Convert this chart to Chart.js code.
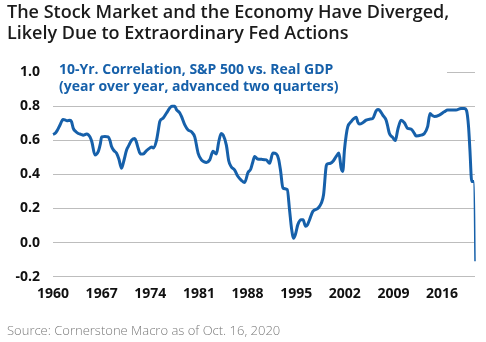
<!DOCTYPE html>
<html>
<head>
<meta charset="utf-8">
<title>Stock Market vs Economy</title>
<script src="https://cdn.jsdelivr.net/npm/chart.js@4.4.0/dist/chart.umd.min.js"></script>
<style>
  html, body { margin: 0; padding: 0; background: #fff; }
  #wrap { width: 486px; height: 342px; }
</style>
</head>
<body>
<div id="wrap"><canvas id="corrChart"></canvas></div>
<script>
// sample dates as decimal years
var dates = [
  1960.00, 1960.29, 1960.57, 1961.01, 1961.44, 1961.72, 1962.01, 1962.44, 1962.66, 1962.92,
  1963.30, 1963.64, 1964.02, 1964.35, 1964.84, 1965.10, 1965.32, 1965.60, 1966.03, 1966.51,
  1966.82, 1967.00, 1967.47, 1967.95, 1968.19, 1968.43, 1968.76, 1969.15, 1969.48, 1969.87,
  1970.20, 1970.59, 1970.92, 1971.31, 1971.78, 1972.00, 1972.26, 1972.57, 1972.97, 1973.46,
  1973.94, 1974.22, 1974.44, 1974.90, 1975.16, 1975.37, 1975.85, 1976.34, 1976.82, 1977.10,
  1977.53, 1977.77, 1978.25, 1978.49, 1978.97, 1979.44, 1979.93, 1980.40, 1980.88, 1981.36,
  1981.70, 1982.08, 1982.56, 1983.03, 1983.52, 1983.85, 1984.21, 1984.50, 1984.96, 1985.29,
  1985.65, 1986.15, 1986.58, 1987.11, 1987.59, 1988.06, 1988.45, 1988.74, 1989.02, 1989.45,
  1990.03, 1990.70, 1991.18, 1991.65, 1992.14, 1992.47, 1992.76, 1993.09, 1993.72, 1994.05,
  1994.34, 1994.63, 1994.91, 1995.24, 1995.73, 1995.99, 1996.35, 1996.64, 1996.93, 1997.40,
  1998.12, 1998.61, 1998.94, 1999.33, 1999.51, 1999.94, 2000.27, 2000.76, 2001.14, 2001.48,
  2001.71, 2001.95, 2002.20, 2002.43, 2002.92, 2003.25, 2003.64, 2003.89, 2004.11, 2004.58,
  2005.07, 2005.55, 2006.02, 2006.51, 2006.77, 2006.98, 2007.46, 2007.95, 2008.13, 2008.42,
  2008.89, 2009.28, 2009.61, 2010.10, 2010.57, 2011.05, 2011.54, 2012.01, 2012.26, 2012.97,
  2013.45, 2013.92, 2014.27, 2014.60, 2014.89, 2015.60, 2016.32, 2016.80, 2017.33, 2018.00,
  2018.72, 2019.20, 2019.53, 2019.81, 2020.01, 2020.27, 2020.60, 2020.74
];

// 10-yr correlation, S&P 500 vs. real GDP
var correlation = [
  0.635, 0.640, 0.655, 0.690, 0.722, 0.720, 0.715, 0.718, 0.710, 0.670,
  0.650, 0.640, 0.635, 0.630, 0.637, 0.632, 0.620, 0.590, 0.514, 0.533,
  0.580, 0.620, 0.622, 0.620, 0.600, 0.563, 0.540, 0.524, 0.490, 0.436,
  0.480, 0.543, 0.570, 0.600, 0.610, 0.590, 0.553, 0.520, 0.520, 0.540,
  0.555, 0.560, 0.555, 0.600, 0.660, 0.710, 0.730, 0.760, 0.790, 0.800,
  0.800, 0.780, 0.760, 0.740, 0.690, 0.660, 0.650, 0.620, 0.525, 0.485,
  0.475, 0.470, 0.485, 0.535, 0.520, 0.590, 0.640, 0.630, 0.570, 0.480,
  0.445, 0.425, 0.390, 0.365, 0.352, 0.410, 0.430, 0.470, 0.505, 0.490,
  0.488, 0.485, 0.465, 0.525, 0.520, 0.490, 0.420, 0.320, 0.310, 0.190,
  0.080, 0.025, 0.050, 0.105, 0.134, 0.134, 0.095, 0.105, 0.134, 0.183,
  0.200, 0.230, 0.280, 0.450, 0.462, 0.465, 0.475, 0.505, 0.525, 0.436,
  0.417, 0.543, 0.630, 0.680, 0.710, 0.725, 0.735, 0.705, 0.695, 0.703,
  0.718, 0.724, 0.728, 0.773, 0.780, 0.777, 0.748, 0.718, 0.690, 0.640,
  0.617, 0.598, 0.660, 0.718, 0.703, 0.670, 0.666, 0.640, 0.625, 0.630,
  0.640, 0.680, 0.757, 0.745, 0.740, 0.748, 0.767, 0.777, 0.777, 0.777,
  0.787, 0.787, 0.773, 0.680, 0.543, 0.358, 0.358, -0.110
];

var xTicks = [1960, 1967, 1974, 1981, 1988, 1995, 2002, 2009, 2016];
var yTicks = [-0.2, 0.0, 0.2, 0.4, 0.6, 0.8, 1.0];

var titleLines = [
  'The Stock Market and the Economy Have Diverged,',
  'Likely Due to Extraordinary Fed Actions'
];
var seriesLabel = [
  '10-Yr. Correlation, S&P 500 vs. Real GDP',
  '(year over year, advanced two quarters)'
];
var sourceNote = 'Source: Cornerstone Macro as of Oct. 16, 2020';

var BLUE = '#1660aa';
var FONT = '"Open Sans", "DejaVu Sans", sans-serif';

// series caption sits on top of the 1.0 gridline, knocked out with white
var seriesLabelPlugin = {
  id: 'seriesLabel',
  beforeDatasetsDraw: function (chart) {
    var ctx = chart.ctx;
    var area = chart.chartArea;
    ctx.save();
    ctx.fillStyle = '#fff';
    ctx.fillRect(area.left, area.top - 3, 394, 6);
    ctx.font = '700 14px ' + FONT;
    ctx.fillStyle = BLUE;
    ctx.textBaseline = 'middle';
    ctx.textAlign = 'left';
    ctx.fillText(seriesLabel[0], area.left + 6, area.top - 2);
    ctx.fillText(seriesLabel[1], area.left + 6, area.top + 15);
    ctx.restore();
  }
};

var points = dates.map(function (d, i) { return { x: d, y: correlation[i] }; });
var lastIndex = dates.length - 1;

var ctx = document.getElementById('corrChart').getContext('2d');
new Chart(ctx, {
  type: 'line',
  data: {
    datasets: [{
      label: seriesLabel[0],
      data: points,
      borderColor: BLUE,
      borderWidth: 3,
      pointRadius: 0,
      fill: false,
      cubicInterpolationMode: 'monotone',
      borderJoinStyle: 'round',
      clip: false,
      segment: {
        // the final plunge is drawn with a thinner stroke
        borderWidth: function (c) { return c.p1DataIndex === lastIndex ? 1.5 : undefined; }
      }
    }]
  },
  options: {
    responsive: true,
    maintainAspectRatio: false,
    animation: false,
    layout: { padding: { left: 7, right: 11, top: 2, bottom: 2 } },
    plugins: {
      legend: { display: false },
      tooltip: { enabled: false },
      title: {
        display: true,
        text: titleLines,
        align: 'start',
        color: '#1b1b1b',
        font: { family: FONT, size: 18, weight: '600', lineHeight: 1.17 },
        padding: { top: 0, bottom: 28 }
      },
      subtitle: {
        display: true,
        position: 'bottom',
        text: sourceNote,
        align: 'start',
        color: '#7a7a7a',
        font: { family: FONT, size: 13, weight: '300', lineHeight: 1.2 },
        padding: { top: 12, bottom: 1 }
      }
    },
    scales: {
      x: {
        type: 'linear',
        min: dates[0],
        max: dates[lastIndex],
        grid: { display: false, drawTicks: false },
        border: { display: false },
        afterBuildTicks: function (axis) {
          axis.ticks = xTicks.map(function (v) { return { value: v }; });
        },
        ticks: {
          color: '#111',
          padding: 9,
          maxRotation: 0,
          autoSkip: false,
          font: { family: FONT, size: 14, weight: '700' },
          callback: function (v) { return String(v); }
        }
      },
      y: {
        min: -0.2,
        max: 1.0,
        afterBuildTicks: function (axis) {
          axis.ticks = yTicks.map(function (v) { return { value: v }; });
        },
        afterFit: function (axis) { axis.width = 46; },
        grid: { color: '#bdbdbd', lineWidth: 1, drawTicks: false },
        border: { display: false },
        ticks: {
          color: '#111',
          padding: 13,
          font: { family: FONT, size: 14, weight: '700' },
          callback: function (v) { return v.toFixed(1); }
        }
      }
    }
  },
  plugins: [seriesLabelPlugin]
});
</script>
</body>
</html>
